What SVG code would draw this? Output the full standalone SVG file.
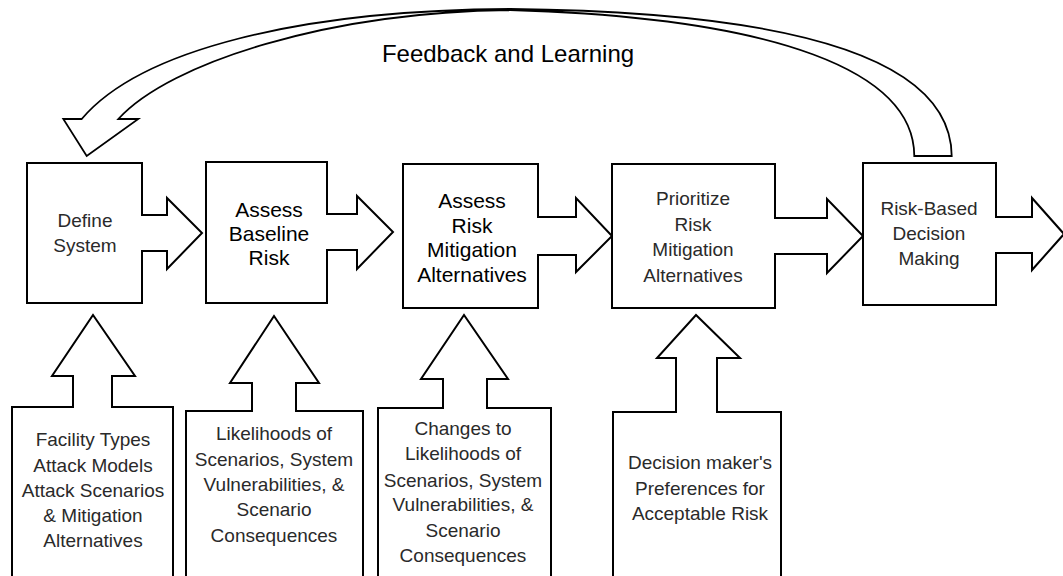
<svg xmlns="http://www.w3.org/2000/svg" width="1063" height="576" viewBox="0 0 1063 576">
  <style>
    .shape { fill: #ffffff; stroke: #000000; stroke-width: 2; stroke-linejoin: miter; }
    .loop { fill: #ffffff; stroke: #000000; stroke-width: 1.8; stroke-linejoin: miter; }
    text { font-family: "Liberation Sans", Arial, sans-serif; text-anchor: middle; }
    .step { font-size: 19px; fill: #2a2a2a; }
    .big { font-size: 21px; fill: #000000; }
    .input { font-size: 19px; fill: #2a2a2a; }
    .title { font-size: 24px; fill: #000000; }
  </style>

  <rect width="1063" height="576" fill="#ffffff"/>

  <!-- feedback loop arrow -->
  <g id="connectors">
    <path id="feedback-arrow" class="loop"
      d="M951.7,156 C951,60 800,12 510,9 C300,10 140,50 81.7,119 L63.3,119 L86.7,156 L138.3,119 L118.3,119 C170,62 330,12 510,10 C780,18 914,72 914.3,156 Z"/>
    <text class="title" x="508" y="62">Feedback and Learning</text>
  </g>

  <!-- process steps (box with outgoing arrow) -->
  <g id="step-define">
    <path class="shape" d="M27,163 H142 V215 H167 V198 L202,233 L167,269 V251 H142 V303 H27 Z"/>
    <text class="step" x="85" y="227">Define</text>
    <text class="step" x="85" y="252">System</text>
  </g>

  <g id="step-baseline">
    <path class="shape" d="M206,162 H327 V214 H357 V196 L393,232 L357,269 V250 H327 V303 H206 Z"/>
    <text class="big" x="269" y="216.5">Assess</text>
    <text class="big" x="269" y="240.5">Baseline</text>
    <text class="big" x="269" y="264.5">Risk</text>
  </g>

  <g id="step-mitigation">
    <path class="shape" d="M403,164 H538 V217 H576 V198 L612,236 L576,272 V255 H538 V308 H403 Z"/>
    <text class="big" x="472" y="208">Assess</text>
    <text class="big" x="472" y="232.5">Risk</text>
    <text class="big" x="472" y="257">Mitigation</text>
    <text class="big" x="472" y="281.5">Alternatives</text>
  </g>

  <g id="step-prioritize">
    <path class="shape" d="M612,164 H775 V218 H827 V199 L863,236 L827,273 V254 H775 V308 H612 Z"/>
    <text class="step" x="693" y="205">Prioritize</text>
    <text class="step" x="693" y="230.5">Risk</text>
    <text class="step" x="693" y="256">Mitigation</text>
    <text class="step" x="693" y="281.5">Alternatives</text>
  </g>

  <g id="step-decision">
    <path class="shape" d="M863,163 H996 V217 H1032 V198 L1064,234 L1032,270 V253 H996 V305 H863 Z"/>
    <text class="step" x="929" y="215">Risk-Based</text>
    <text class="step" x="929" y="240">Decision</text>
    <text class="step" x="929" y="265">Making</text>
  </g>

  <!-- inputs (box with upward arrow) -->
  <g id="input-system">
    <path class="shape" d="M12,580 V407 H73 V376 H52 L93,315 L135,376 H112 V407 H173 V580"/>
    <text class="input" x="93" y="446">Facility Types</text>
    <text class="input" x="93" y="472">Attack Models</text>
    <text class="input" x="93" y="497">Attack Scenarios</text>
    <text class="input" x="93" y="522">&amp; Mitigation</text>
    <text class="input" x="93" y="547">Alternatives</text>
  </g>

  <g id="input-baseline">
    <path class="shape" d="M186,580 V411 H252 V383 H230 L274,316 L319,383 H296 V411 H363 V580"/>
    <text class="input" x="274" y="440">Likelihoods of</text>
    <text class="input" x="274" y="466">Scenarios, System</text>
    <text class="input" x="274" y="491">Vulnerabilities, &amp;</text>
    <text class="input" x="274" y="516">Scenario</text>
    <text class="input" x="274" y="542">Consequences</text>
  </g>

  <g id="input-mitigation">
    <path class="shape" d="M378,580 V408 H443 V379 H421 L464,315 L508,379 H487 V408 H551 V580"/>
    <text class="input" x="463" y="435">Changes to</text>
    <text class="input" x="463" y="460">Likelihoods of</text>
    <text class="input" x="463" y="487">Scenarios, System</text>
    <text class="input" x="463" y="511">Vulnerabilities, &amp;</text>
    <text class="input" x="463" y="537">Scenario</text>
    <text class="input" x="463" y="562">Consequences</text>
  </g>

  <g id="input-preferences">
    <path class="shape" d="M613,580 V412 H676 V358 H657 L696,315 L740,358 H717 V412 H781 V580"/>
    <text class="input" x="700" y="469">Decision maker's</text>
    <text class="input" x="700" y="495">Preferences for</text>
    <text class="input" x="700" y="520">Acceptable Risk</text>
  </g>
</svg>
